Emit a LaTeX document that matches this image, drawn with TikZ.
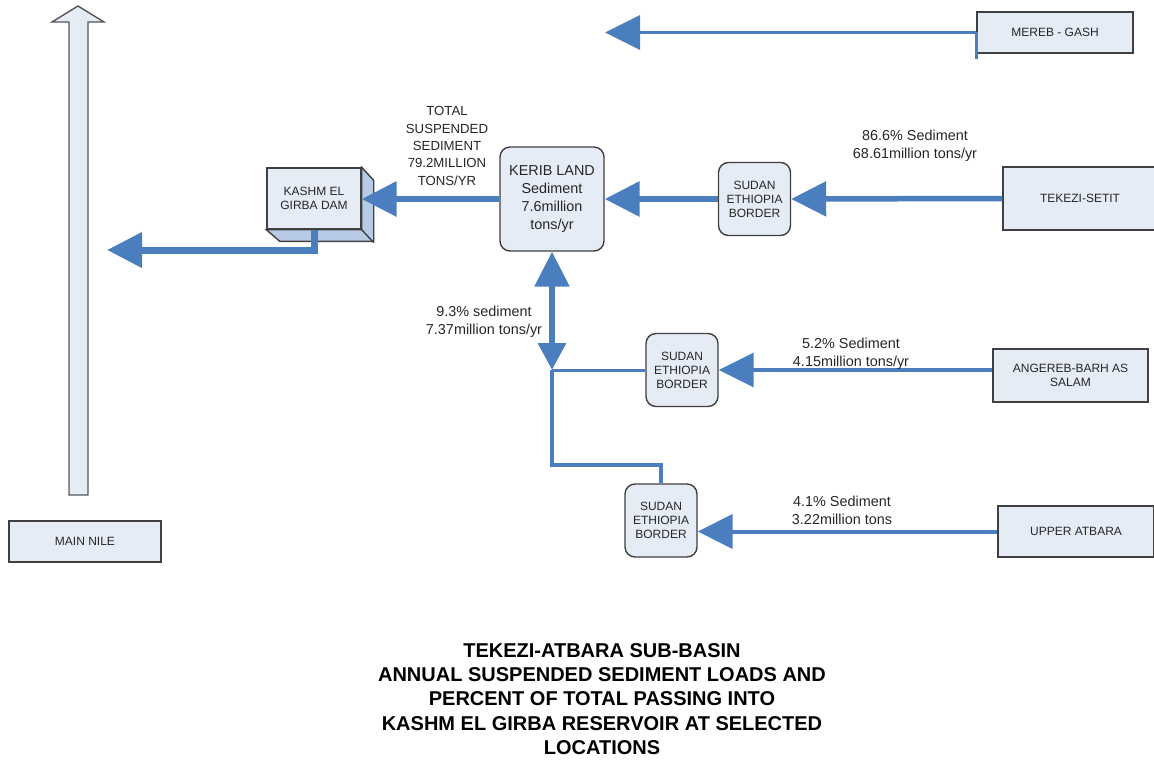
\documentclass[tikz,border=0pt]{standalone}
\usepackage{fontspec}
\setmainfont{Liberation Sans}
\usepackage{tikz}
\usetikzlibrary{arrows.meta}
\definecolor{azul}{HTML}{4A7EBF}
\definecolor{relleno}{HTML}{E6ECF6}
\definecolor{lateral}{HTML}{B7CAE6}
\definecolor{borde}{HTML}{404040}
\definecolor{gris}{HTML}{555555}
\definecolor{tinta}{HTML}{262626}

\begin{document}
\begin{tikzpicture}[x=0.5pt,y=-0.5pt,
    caja/.style={draw=borde,fill=relleno,line width=0.7pt,align=center,
                 inner sep=1pt,font=\fontsize{6}{7}\selectfont\color{tinta}},
    frontera/.style={caja,rounded corners=5pt,minimum width=36pt,
                     minimum height=36.5pt},
    nota/.style={align=center,font=\fontsize{7.2}{9}\selectfont\color{tinta}},
    punta/.tip={Triangle[length=17.5pt,width=17pt]},
    puntachica/.tip={Triangle[length=13.5pt,width=13.5pt]},
    flecha/.style={azul,-punta}]
  \useasboundingbox (0,0) rectangle (1154,765);

  % Nilo principal
  \draw[draw=gris,fill=relleno,line width=0.7pt]
    (69,495) -- (69,22) -- (52,22) -- (78,6) -- (104,22) -- (88,22)
    -- (88,495) -- cycle;
  \node[caja,minimum width=76pt,minimum height=20.5pt] (nilo) at (85,541.5)
    {MAIN NILE};

  % presa con caras laterales
  \node[caja,minimum width=47pt,minimum height=30.5pt] (presa) at (314,198.5)
    {KASHM EL\\GIRBA DAM};
  \filldraw[fill=lateral,draw=borde,line width=0.7pt] (presa.north east)
    -- ++(12,13) -- ++(0,61) -- ++(-94,0) -- (presa.south west)
    -- (presa.south east) -- cycle;
  \draw[borde,line width=0.7pt] (presa.south east) -- ++(12,13);

  \node[caja,rounded corners=5pt,minimum width=52pt,minimum height=52pt,
        font=\fontsize{7.2}{8.9}\selectfont\color{tinta}] (kerib) at (552,199)
    {KERIB LAND\\Sediment\\7.6million\\tons/yr};

  \node[frontera] (sud1) at (754.5,199) {SUDAN\\ETHIOPIA\\BORDER};
  \node[frontera] (sud2) at (682,370) {SUDAN\\ETHIOPIA\\BORDER};
  \node[frontera] (sud3) at (661,520.5) {SUDAN\\ETHIOPIA\\BORDER};

  \node[caja,minimum width=78pt,minimum height=20.5pt] (mereb) at (1055,32.5)
    {MEREB - GASH};
  \node[caja,minimum width=77pt,minimum height=31.5pt] (tekezi) at (1080,198.5)
    {TEKEZI-SETIT};
  \node[caja,minimum width=77.5pt,minimum height=26.5pt] (angereb)
    at (1070.5,375.5) {ANGEREB-BARH AS\\SALAM};
  \node[caja,minimum width=78pt,minimum height=25.5pt] (atbara) at (1076,531.5)
    {UPPER ATBARA};

  \coordinate (salida) at (107,250);
  \coordinate (gash) at (605,32.5);
  \coordinate (union) at (552,370);
  \coordinate (codo) at (552,465);

  % conectores
  \draw[flecha,line width=1.75pt] (mereb.west) -- (gash);
  \draw[azul,line width=1.5pt] (mereb.west) -- ++(0,27);
  \draw[flecha,line width=2.75pt] (tekezi.west) -- (sud1.east);
  \draw[flecha,line width=3.25pt] (sud1.west) -- (kerib.east);
  \draw[flecha,line width=3.25pt] (kerib.west) -- (kerib.west -| presa.east);
  \draw[flecha,line width=3.5pt] (presa.south) |- (salida);
  \draw[azul,line width=3pt,puntachica-punta] (union) -- (kerib.south);
  \draw[azul,line width=1.5pt] (sud2.west) -- (union);
  \draw[azul,line width=2.25pt] (sud3.north) |- (codo) -- (union);
  \draw[flecha,line width=1.75pt] (sud2.east -| angereb.west) -- (sud2.east);
  \draw[flecha,line width=2pt] (atbara.west) -- (atbara.west -| sud3.east);

  % rotulos
  \node[nota,font=\fontsize{6.6}{8.7}\selectfont\color{tinta}] (total)
    at (447,146) {TOTAL\\SUSPENDED\\SEDIMENT\\79.2MILLION\\TONS/YR};
  \node[nota] (t1) at (915,146) {86.6\% Sediment\\68.61million tons/yr};
  \node[nota] (t2) at (484,322) {9.3\% sediment\\7.37million tons/yr};
  \node[nota] (t3) at (851,354) {5.2\% Sediment\\4.15million tons/yr};
  \node[nota] (t4) at (842,510) {4.1\% Sediment\\3.22million tons};
  \node[align=center,font=\fontsize{10}{12.2}\selectfont\bfseries] (titulo)
    at (602,699) {TEKEZI-ATBARA SUB-BASIN\\ANNUAL SUSPENDED SEDIMENT LOADS AND\\
    PERCENT OF TOTAL PASSING INTO\\KASHM EL GIRBA RESERVOIR AT SELECTED\\
    LOCATIONS};
\end{tikzpicture}
\end{document}
